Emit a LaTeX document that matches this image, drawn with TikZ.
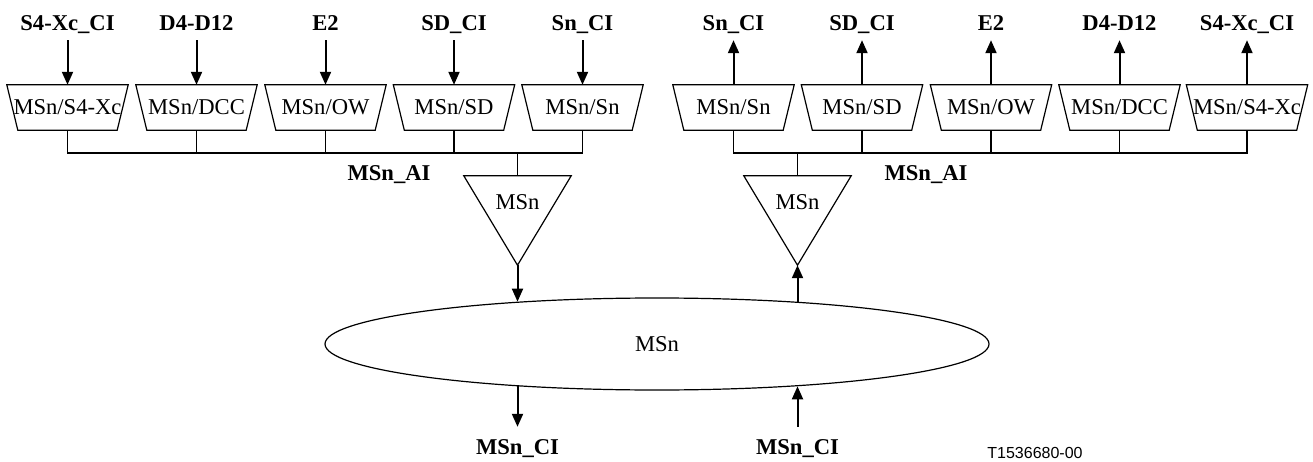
\documentclass[tikz,border=0pt]{standalone}
\usepackage{fontspec}
\setmainfont{Liberation Serif}
\newfontfamily\tagfont{Liberation Sans}
\usetikzlibrary{arrows.meta,shapes.geometric}
\begin{document}
\begin{tikzpicture}[x=1pt,y=-1pt,
  tbox/.style={minimum width=121pt, minimum height=45pt, inner sep=0pt, text height=15pt, text depth=0pt, font=\fontsize{22.6}{26}\selectfont},
  toplbl/.style={font=\fontsize{22.6}{26}\selectfont\bfseries, anchor=base, inner sep=0pt, text height=15pt, text depth=9pt},
  botlbl/.style={font=\fontsize{22.6}{26}\selectfont\bfseries, anchor=base, inner sep=0pt, text height=27pt, text depth=0pt},
  ailbl/.style={font=\fontsize{22.6}{26}\selectfont\bfseries, anchor=base, inner sep=0pt},
  trinode/.style={minimum width=107pt, minimum height=89pt, inner sep=0pt},
  txt/.style={font=\fontsize{22.6}{26}\selectfont, anchor=base, inner sep=0pt},
  outline/.style={draw=black, line width=1.2pt, line join=miter},
  sig/.style={draw=black, line width=2pt, -{Triangle[length=13pt,width=11pt]}},
  bus/.style={draw=black, line width=1.6pt},
]
\useasboundingbox (0,0) rectangle (1313,462);
\coordinate (busL) at (0,153);

% left boxes
\node[tbox] (L1) at (67.5,107.5) {MSn/S4-Xc};
\node[tbox] (L2) at (196.5,107.5) {MSn/DCC};
\node[tbox] (L3) at (325.5,107.5) {MSn/OW};
\node[tbox] (L4) at (454,107.5) {MSn/SD};
\node[tbox] (L5) at (582.5,107.5) {MSn/Sn};
% right boxes
\node[tbox] (R1) at (733.5,107.5) {MSn/Sn};
\node[tbox] (R2) at (862,107.5) {MSn/SD};
\node[tbox] (R3) at (991,107.5) {MSn/OW};
\node[tbox] (R4) at (1119.5,107.5) {MSn/DCC};
\node[tbox] (R5) at (1247,107.5) {MSn/S4-Xc};

\foreach \b in {L1,L2,L3,L4,L5,R1,R2,R3,R4,R5}
  \draw[outline] (\b.north west) -- (\b.north east) -- ([xshift=-11pt]\b.south east) -- ([xshift=11pt]\b.south west) -- cycle;

% top labels
\node[toplbl] (tL1) at (67.5,31) {S4-Xc\_CI};
\node[toplbl] (tL2) at (196.5,31) {D4-D12};
\node[toplbl] (tL3) at (325.5,31) {E2};
\node[toplbl] (tL4) at (454,31) {SD\_CI};
\node[toplbl] (tL5) at (582.5,31) {Sn\_CI};
\node[toplbl] (tR1) at (733.5,31) {Sn\_CI};
\node[toplbl] (tR2) at (862,31) {SD\_CI};
\node[toplbl] (tR3) at (991,31) {E2};
\node[toplbl] (tR4) at (1119.5,31) {D4-D12};
\node[toplbl] (tR5) at (1247,31) {S4-Xc\_CI};

\foreach \i in {1,...,5} {
  \draw[sig] (tL\i.south) -- (L\i.north);
  \draw[sig] (R\i.north) -- (tR\i.south);
}

% triangles
\node[trinode] (T1) at (517.5,220.5) {};
\node[trinode] (T2) at (797.5,220.5) {};
\draw[outline] (T1.north west) -- (T1.north east) -- (T1.south) -- cycle;
\draw[outline] (T2.north west) -- (T2.north east) -- (T2.south) -- cycle;
\node[txt] (T1t) at (517.5,210) {MSn};
\node[txt] (T2t) at (797.5,210) {MSn};

% buses
\draw[bus] (L1.south) |- (L5.south |- busL) -- (L5.south);
\foreach \b in {L2,L3,L4} \draw[bus] (\b.south) -- (\b.south |- busL);
\draw[bus] (T1.north) -- (T1.north |- busL);
\draw[bus] (R1.south) |- (R5.south |- busL) -- (R5.south);
\foreach \b in {R2,R3,R4} \draw[bus] (\b.south) -- (\b.south |- busL);
\draw[bus] (T2.north) -- (T2.north |- busL);

\node[ailbl] (ai1) at (389,181) {MSn\_AI};
\node[ailbl] (ai2) at (926,181) {MSn\_AI};

% ellipse
\node[draw, ellipse, line width=1.2pt, minimum width=664pt, minimum height=92pt, inner sep=0pt, font=\fontsize{22.6}{26}\selectfont] (E) at (657,344) {MSn};

% bottom labels
\node[botlbl] (b1) at (517.5,454) {MSn\_CI};
\node[botlbl] (b2) at (797.5,454) {MSn\_CI};

\draw[sig] (T1.south) -- (T1.south |- E.163.4);
\draw[sig] (b1.north |- E.196.6) -- (b1.north);
\draw[sig] (b2.north) -- (b2.north |- E.343.4);
\draw[sig] (T2.south |- E.16.6) -- (T2.south);

\node[font=\tagfont\fontsize{16}{19}\selectfont, anchor=base, inner sep=0pt] (tag) at (1035,458) {T1536680-00};
\end{tikzpicture}
\end{document}
